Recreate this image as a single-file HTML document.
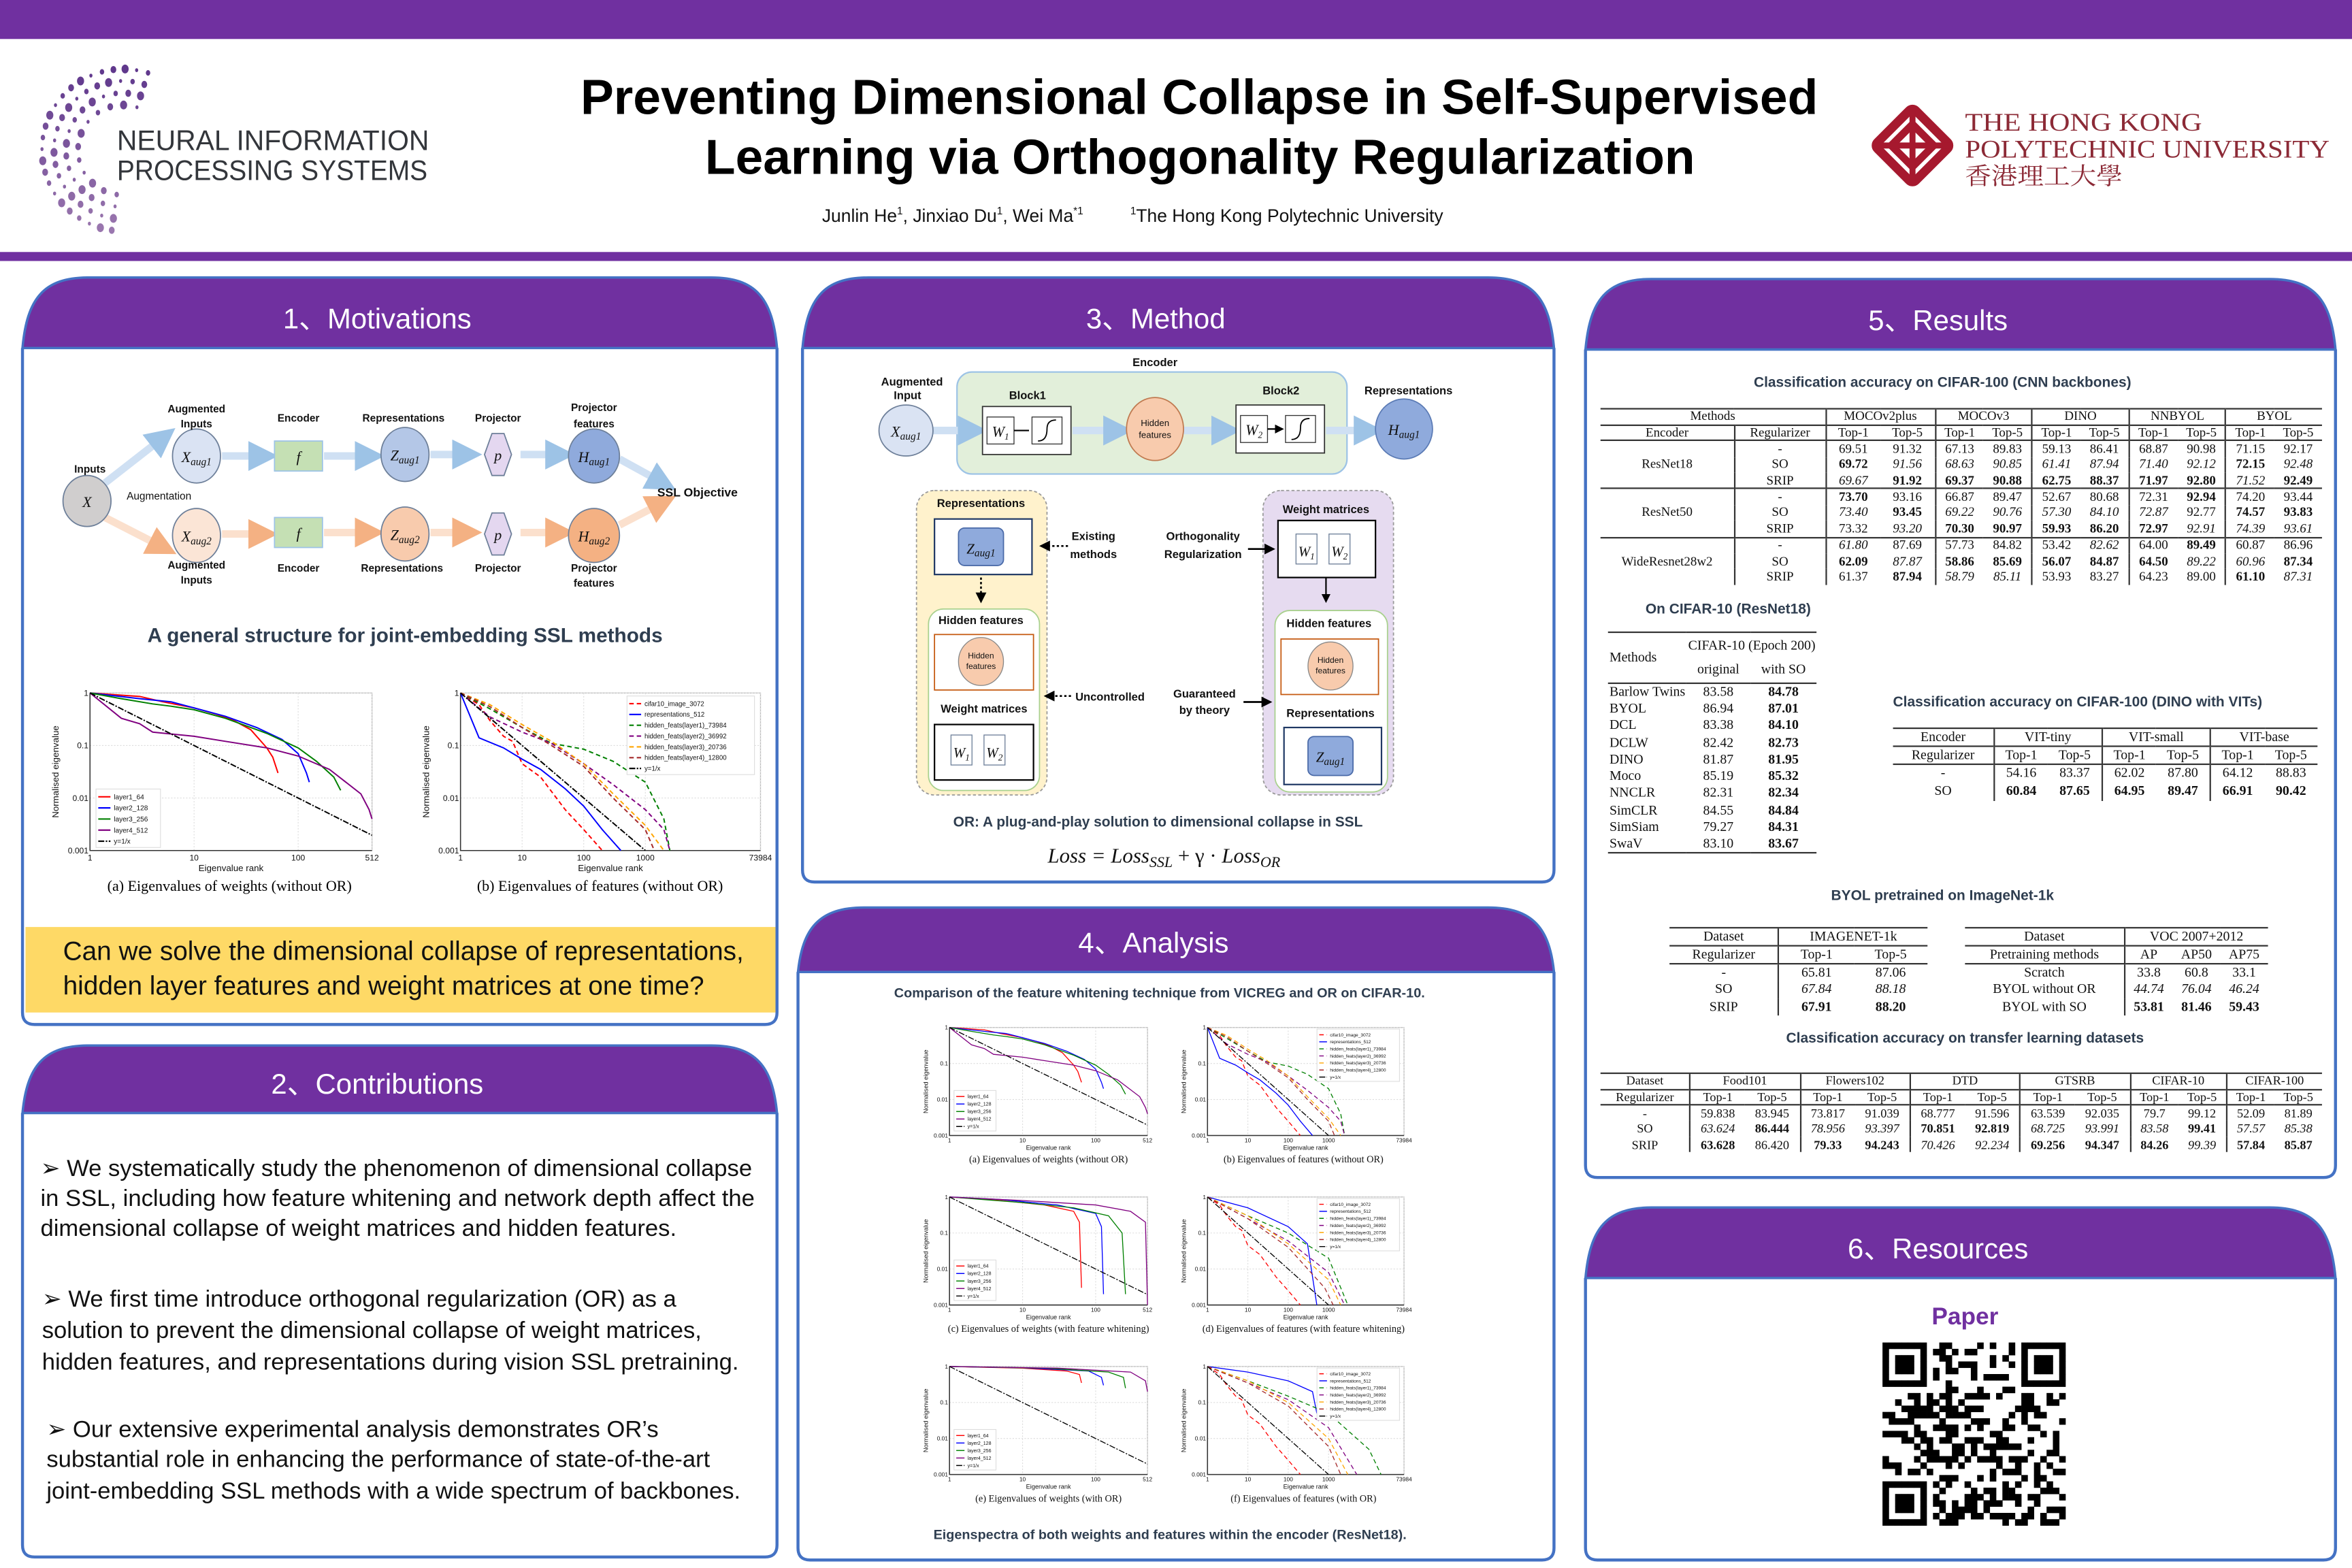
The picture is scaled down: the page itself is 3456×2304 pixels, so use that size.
<!DOCTYPE html>
<html><head><meta charset="utf-8">
<style>
html,body{margin:0;padding:0;background:#fff;}
#wrap{position:absolute;left:0;top:0;width:1568px;height:1045px;transform:scale(2.20408);transform-origin:0 0;overflow:hidden;background:#fff;font-family:"Liberation Sans","Noto Sans CJK SC",sans-serif;}
#poster{position:absolute;left:0;top:0;}
.tb{position:absolute;border-collapse:collapse;font-family:"Liberation Serif",serif;font-size:8.6px;line-height:9px;color:#111;}
.tb td{padding:0 1px;text-align:center;white-space:nowrap;}
.tb tr.T td{border-top:1.3px solid #333;}
.tb tr.t td{border-top:0.8px solid #333;}
.tb tr.B td{border-bottom:1.3px solid #333;}
.tb td.vl{border-left:0.8px solid #333;}
.tb td.lft{text-align:left;}
</style></head>
<body>
<div id="wrap">
<svg id="poster" width="1568" height="1045" viewBox="0 0 1568 1045" xmlns="http://www.w3.org/2000/svg">
<defs>
<marker id="ahb" markerWidth="4" markerHeight="4" refX="2.5" refY="2" orient="auto"><path d="M0,0 L4,2 L0,4 z" fill="#9dc3e6"/></marker>
<marker id="aho" markerWidth="4" markerHeight="4" refX="2.5" refY="2" orient="auto"><path d="M0,0 L4,2 L0,4 z" fill="#f4b183"/></marker>
<marker id="ahk" markerWidth="6" markerHeight="6" refX="5" refY="3" orient="auto"><path d="M0,0 L6,3 L0,6 z" fill="#000"/></marker>
</defs>
<rect x="0" y="0" width="1568" height="26" fill="#7030a0"/>
<rect x="0" y="168" width="1568" height="6" fill="#7030a0"/>
<g id="neurips"></g>
<text x="78" y="100" font-size="19" fill="#33363b" textLength="208" lengthAdjust="spacingAndGlyphs">NEURAL INFORMATION</text>
<text x="78" y="120" font-size="19" fill="#33363b" textLength="207" lengthAdjust="spacingAndGlyphs">PROCESSING SYSTEMS</text>
<text x="387" y="76" font-size="33" font-weight="bold" fill="#000" textLength="825" lengthAdjust="spacingAndGlyphs">Preventing Dimensional Collapse in Self-Supervised</text>
<text x="470" y="116" font-size="33" font-weight="bold" fill="#000" textLength="660" lengthAdjust="spacingAndGlyphs">Learning via Orthogonality Regularization</text>
<text x="548" y="148" font-size="12" fill="#111">Junlin He<tspan font-size="7" dy="-5">1</tspan><tspan dy="5">, Jinxiao Du</tspan><tspan font-size="7" dy="-5">1</tspan><tspan dy="5">, Wei Ma</tspan><tspan font-size="7" dy="-5">*1</tspan><tspan dy="5" dx="28"> </tspan><tspan font-size="7" dy="-5">1</tspan><tspan dy="5">The Hong Kong Polytechnic University</tspan></text>
<g fill="none" stroke="#a6192e" stroke-width="6">
<rect x="1257" y="79" width="36" height="36" transform="rotate(45 1275 97)" rx="3"/>
<rect x="1265" y="87" width="20" height="20" transform="rotate(45 1275 97)" stroke-width="5"/>
<path d="M1250,97 L1300,97 M1275,72 L1275,122" stroke-width="4"/>
</g>
<text x="1310" y="87" font-family="Liberation Serif" font-size="17" fill="#8c2a36" textLength="158" lengthAdjust="spacingAndGlyphs">THE HONG KONG</text>
<text x="1310" y="105" font-family="Liberation Serif" font-size="17" fill="#8c2a36" textLength="243" lengthAdjust="spacingAndGlyphs">POLYTECHNIC UNIVERSITY</text>
<text x="1310" y="123" font-family="'Noto Serif CJK SC',serif" font-size="16" fill="#8c2a36" textLength="105" lengthAdjust="spacingAndGlyphs">香港理工大學</text>

<g id="panels"></g>

<g font-size="7" font-weight="bold" fill="#111" text-anchor="middle">
<g stroke-width="5" fill="none">
<line x1="70" y1="322" x2="111" y2="290" stroke="#cfe0f3" marker-end="url(#ahb)"/>
<line x1="148" y1="304" x2="178" y2="304" stroke="#cfe0f3" marker-end="url(#ahb)"/>
<line x1="216" y1="304" x2="249" y2="304" stroke="#cfe0f3" marker-end="url(#ahb)"/>
<line x1="287" y1="303" x2="314" y2="303" stroke="#cfe0f3" marker-end="url(#ahb)"/>
<line x1="347" y1="303" x2="376" y2="303" stroke="#cfe0f3" marker-end="url(#ahb)"/>
<line x1="413" y1="306" x2="444" y2="323" stroke="#cfe0f3" marker-end="url(#ahb)"/>
<line x1="70" y1="345" x2="111" y2="366" stroke="#fbe0cd" marker-end="url(#aho)"/>
<line x1="148" y1="356" x2="178" y2="356" stroke="#fbe0cd" marker-end="url(#aho)"/>
<line x1="216" y1="355" x2="249" y2="355" stroke="#fbe0cd" marker-end="url(#aho)"/>
<line x1="287" y1="355" x2="314" y2="355" stroke="#fbe0cd" marker-end="url(#aho)"/>
<line x1="347" y1="355" x2="376" y2="355" stroke="#fbe0cd" marker-end="url(#aho)"/>
<line x1="413" y1="350" x2="444" y2="334" stroke="#fbe0cd" marker-end="url(#aho)"/>
</g>
<g stroke="#6d7f99" stroke-width="0.8">
<ellipse cx="58" cy="334" rx="16" ry="17" fill="#d0cece"/>
<ellipse cx="131" cy="304" rx="16" ry="18" fill="#dae3f3"/>
<ellipse cx="131" cy="357" rx="16" ry="18" fill="#fbe5d6"/>
<rect x="183" y="294" width="32" height="20" fill="#c5e0b4" stroke="#9dc3e6"/>
<rect x="183" y="345" width="32" height="20" fill="#c5e0b4" stroke="#9dc3e6"/>
<ellipse cx="270" cy="303" rx="16" ry="18" fill="#b4c7e7"/>
<ellipse cx="270" cy="356" rx="16" ry="18" fill="#f8cbad"/>
<polygon points="323,303 328,289 336,289 341,303 336,317 328,317" fill="#e4d7f0"/>
<polygon points="323,356 328,342 336,342 341,356 336,370 328,370" fill="#e4d7f0"/>
<ellipse cx="396" cy="304" rx="17" ry="18" fill="#8faadc"/>
<ellipse cx="396" cy="357" rx="17" ry="18" fill="#f4b183"/>
</g>
<g font-family="Liberation Serif" font-style="italic" font-weight="normal" font-size="10">
<text x="58" y="338">X</text><text x="131" y="308">X<tspan font-size="7" dy="2">aug1</tspan></text>
<text x="131" y="361">X<tspan font-size="7" dy="2">aug2</tspan></text>
<text x="199" y="308">f</text><text x="199" y="359">f</text>
<text x="270" y="307">Z<tspan font-size="7" dy="2">aug1</tspan></text><text x="270" y="360">Z<tspan font-size="7" dy="2">aug2</tspan></text>
<text x="332" y="307">p</text><text x="332" y="360">p</text>
<text x="396" y="308">H<tspan font-size="7" dy="2">aug1</tspan></text><text x="396" y="361">H<tspan font-size="7" dy="2">aug2</tspan></text>
</g>
<text x="60" y="315">Inputs</text>
<text x="106" y="333" font-weight="normal">Augmentation</text>
<text x="131" y="275">Augmented</text><text x="131" y="285">Inputs</text>
<text x="131" y="379">Augmented</text><text x="131" y="389">Inputs</text>
<text x="199" y="281">Encoder</text><text x="199" y="381">Encoder</text>
<text x="269" y="281">Representations</text><text x="268" y="381">Representations</text>
<text x="332" y="281">Projector</text><text x="332" y="381">Projector</text>
<text x="396" y="274">Projector</text><text x="396" y="285">features</text>
<text x="396" y="381">Projector</text><text x="396" y="391">features</text>
<text x="465" y="331" font-size="8">SSL Objective</text>
</g>
<text x="270" y="428" font-size="13.5" font-weight="bold" fill="#2f3e50" text-anchor="middle">A general structure for joint-embedding SSL methods</text>
<g id="motCharts"></g>
<text x="153" y="594" font-family="Liberation Serif" font-size="10" text-anchor="middle">(a) Eigenvalues of weights (without OR)</text>
<text x="400" y="594" font-family="Liberation Serif" font-size="10" text-anchor="middle">(b) Eigenvalues of features (without OR)</text>
<rect x="17" y="618" width="500" height="57" fill="#fed966"/>
<text x="42" y="640" font-size="17.6" fill="#111">Can we solve the dimensional collapse of representations,</text>
<text x="42" y="663" font-size="17.6" fill="#111">hidden layer features and weight matrices at one time?</text>

<g font-size="15.7" fill="#111">
<text x="27" y="784"><tspan font-family="DejaVu Sans">➢</tspan>  We systematically study the phenomenon of  dimensional collapse</text>
<text x="27" y="804">in SSL, including how feature whitening and network depth affect the</text>
<text x="27" y="824">dimensional  collapse of weight matrices and hidden features.</text>
<text x="28" y="871"><tspan font-family="DejaVu Sans">➢</tspan> We first time introduce orthogonal regularization (OR) as a</text>
<text x="28" y="892">solution to prevent the dimensional collapse of weight matrices,</text>
<text x="28" y="913">hidden features, and representations during vision  SSL pretraining.</text>
<text x="31" y="958"><tspan font-family="DejaVu Sans">➢</tspan>  Our extensive experimental analysis demonstrates OR’s</text>
<text x="31" y="978">substantial role in enhancing the performance of state-of-the-art</text>
<text x="31" y="999">joint-embedding SSL methods with a wide spectrum of backbones.</text>
</g>

<g font-size="7.5" font-weight="bold" fill="#111" text-anchor="middle">
<rect x="638" y="248" width="260" height="68" rx="10" fill="#e2efda" stroke="#9dc3e6" stroke-width="1"/>
<g stroke-width="5" fill="none">
<line x1="622" y1="287" x2="651" y2="287" stroke="#cfe0f3" marker-end="url(#ahb)"/>
<line x1="715" y1="287" x2="748" y2="287" stroke="#cfe0f3" marker-end="url(#ahb)"/>
<line x1="789" y1="287" x2="820" y2="287" stroke="#cfe0f3" marker-end="url(#ahb)"/>
<line x1="884" y1="287" x2="915" y2="287" stroke="#cfe0f3" marker-end="url(#ahb)"/>
</g>
<ellipse cx="604" cy="287" rx="18" ry="17" fill="#dae3f3" stroke="#6d7f99" stroke-width="0.8"/>
<rect x="655" y="271" width="59" height="32" fill="#fff" stroke="#333" stroke-width="0.8"/>
<rect x="824" y="270" width="59" height="32" fill="#fff" stroke="#333" stroke-width="0.8"/>
<ellipse cx="770" cy="286" rx="19" ry="21" fill="#f8cbad" stroke="#c07a50" stroke-width="0.8"/>
<ellipse cx="936" cy="286" rx="19" ry="20" fill="#8faadc" stroke="#5b7bb5" stroke-width="0.8"/>
<g fill="#fff" stroke="#333" stroke-width="0.6"><rect x="658" y="278" width="18" height="18"/><rect x="688" y="278" width="20" height="18"/><rect x="827" y="277" width="18" height="18"/><rect x="857" y="277" width="20" height="18"/></g>
<path d="M676,287 L686,287 M845,286 L855,286" stroke="#000" stroke-width="1" marker-end="url(#ahk)"/>
<path d="M692,294 Q698,294 698,286 Q698,280 704,280 M861,293 Q867,293 867,285 Q867,279 873,279" stroke="#000" fill="none" stroke-width="0.8"/>
<g font-family="Liberation Serif" font-style="italic" font-weight="normal" font-size="10">
<text x="604" y="291">X<tspan font-size="7" dy="2">aug1</tspan></text>
<text x="667" y="291">W<tspan font-size="6" dy="2">1</tspan></text><text x="836" y="290">W<tspan font-size="6" dy="2">2</tspan></text>
<text x="936" y="290">H<tspan font-size="7" dy="2">aug1</tspan></text>
</g>
<text x="770" y="284" font-weight="normal" font-size="6">Hidden</text><text x="770" y="292" font-weight="normal" font-size="6">features</text>
<text x="770" y="244">Encoder</text><text x="608" y="257">Augmented</text><text x="605" y="266">Input</text>
<text x="685" y="266">Block1</text><text x="854" y="263">Block2</text><text x="939" y="263">Representations</text>
<rect x="611" y="327" width="87" height="203" rx="12" fill="#fff2cc" stroke="#999" stroke-dasharray="2,1.5" stroke-width="0.8"/>
<rect x="842" y="327" width="87" height="203" rx="12" fill="#e6dbf0" stroke="#999" stroke-dasharray="2,1.5" stroke-width="0.8"/>
<text x="654" y="338">Representations</text>
<rect x="623" y="346" width="65" height="37" fill="#fff" stroke="#1f3864" stroke-width="1"/>
<rect x="639" y="352" width="30" height="25" rx="4" fill="#8faadc" stroke="#4a6aa8" stroke-width="0.8"/>
<line x1="654" y1="385" x2="654" y2="401" stroke="#000" stroke-width="1.2" stroke-dasharray="1.5,1.5" marker-end="url(#ahk)"/>
<rect x="619" y="406" width="74" height="121" rx="10" fill="#fff" stroke="#a9d18e" stroke-width="0.8"/>
<text x="654" y="416">Hidden features</text>
<rect x="623" y="423" width="66" height="37" fill="#fff" stroke="#c55a11" stroke-width="0.8"/>
<ellipse cx="654" cy="441" rx="15" ry="16" fill="#f8cbad" stroke="#888" stroke-width="0.6"/>
<text x="654" y="439" font-weight="normal" font-size="5.5">Hidden</text><text x="654" y="446" font-weight="normal" font-size="5.5">features</text>
<text x="656" y="475">Weight matrices</text>
<rect x="623" y="483" width="66" height="37" fill="#fff" stroke="#000" stroke-width="1"/>
<text x="884" y="342">Weight matrices</text>
<rect x="852" y="347" width="65" height="38" fill="#fff" stroke="#000" stroke-width="1"/>
<line x1="884" y1="385" x2="884" y2="401" stroke="#000" stroke-width="1" marker-end="url(#ahk)"/>
<rect x="850" y="407" width="75" height="121" rx="10" fill="#fff" stroke="#a9d18e" stroke-width="0.8"/>
<text x="886" y="418">Hidden features</text>
<rect x="854" y="426" width="65" height="37" fill="#fff" stroke="#c55a11" stroke-width="0.8"/>
<ellipse cx="887" cy="444" rx="15" ry="16" fill="#f8cbad" stroke="#888" stroke-width="0.6"/>
<text x="887" y="442" font-weight="normal" font-size="5.5">Hidden</text><text x="887" y="449" font-weight="normal" font-size="5.5">features</text>
<text x="887" y="478">Representations</text>
<rect x="856" y="485" width="65" height="38" fill="#fff" stroke="#1f3864" stroke-width="1"/>
<rect x="872" y="491" width="30" height="26" rx="4" fill="#8faadc" stroke="#4a6aa8" stroke-width="0.8"/>
<g fill="#fff" stroke="#6d7f99" stroke-width="0.6"><rect x="634" y="490" width="14" height="20"/><rect x="656" y="490" width="14" height="20"/><rect x="864" y="356" width="14" height="20"/><rect x="886" y="356" width="14" height="20"/></g>
<g font-family="Liberation Serif" font-style="italic" font-weight="normal" font-size="9.5">
<text x="654" y="369">Z<tspan font-size="7" dy="2">aug1</tspan></text>
<text x="887" y="508">Z<tspan font-size="7" dy="2">aug1</tspan></text>
<text x="641" y="505">W<tspan font-size="6" dy="2">1</tspan></text><text x="663" y="505">W<tspan font-size="6" dy="2">2</tspan></text>
<text x="871" y="371">W<tspan font-size="6" dy="2">1</tspan></text><text x="893" y="371">W<tspan font-size="6" dy="2">2</tspan></text>
</g>
<text x="729" y="360">Existing</text><text x="729" y="372">methods</text>
<line x1="712" y1="364" x2="694" y2="364" stroke="#000" stroke-width="1.2" stroke-dasharray="1.5,1.5" marker-end="url(#ahk)"/>
<text x="802" y="360">Orthogonality</text><text x="802" y="372">Regularization</text>
<line x1="832" y1="366" x2="849" y2="366" stroke="#000" stroke-width="1.2" marker-end="url(#ahk)"/>
<text x="740" y="467">Uncontrolled</text>
<line x1="714" y1="464" x2="697" y2="464" stroke="#000" stroke-width="1.2" stroke-dasharray="1.5,1.5" marker-end="url(#ahk)"/>
<text x="803" y="465">Guaranteed</text><text x="803" y="476">by theory</text>
<line x1="829" y1="468" x2="847" y2="468" stroke="#000" stroke-width="1.2" marker-end="url(#ahk)"/>
</g>
<text x="772" y="551" font-size="9.5" font-weight="bold" fill="#2f3e50" text-anchor="middle">OR: A plug-and-play solution to dimensional collapse in SSL</text>
<text x="776" y="575" font-family="Liberation Serif" font-style="italic" font-size="14" text-anchor="middle" fill="#111">Loss = Loss<tspan font-size="10" dy="3">SSL</tspan><tspan dy="-3" font-style="normal"> + γ · </tspan>Loss<tspan font-size="10" dy="3">OR</tspan></text>

<text x="773" y="665" font-size="9" font-weight="bold" fill="#2f3e50" text-anchor="middle">Comparison of the feature whitening technique from VICREG and OR on CIFAR-10.</text>
<g id="anaCharts"></g>
<g font-family="Liberation Serif" font-size="6.5" text-anchor="middle" fill="#111">
<text x="699" y="775">(a) Eigenvalues of weights (without OR)</text>
<text x="869" y="775">(b) Eigenvalues of features (without OR)</text>
<text x="699" y="888">(c) Eigenvalues of weights (with feature whitening)</text>
<text x="869" y="888">(d) Eigenvalues of features (with feature whitening)</text>
<text x="699" y="1001">(e) Eigenvalues of weights (with OR)</text>
<text x="869" y="1001">(f) Eigenvalues of features (with OR)</text>
</g>
<text x="780" y="1026" font-size="9" font-weight="bold" fill="#2f3e50" text-anchor="middle">Eigenspectra of both weights and features within the encoder (ResNet18).</text>

<g font-size="9.5" font-weight="bold" fill="#2f3e50">
<text x="1295" y="258" text-anchor="middle">Classification accuracy on CIFAR-100 (CNN backbones)</text>
<text x="1097" y="409">On CIFAR-10 (ResNet18)</text>
<text x="1262" y="471">Classification accuracy on CIFAR-100 (DINO with VITs)</text>
<text x="1295" y="600" text-anchor="middle">BYOL pretrained on ImageNet-1k</text>
<text x="1310" y="695" text-anchor="middle">Classification accuracy on transfer learning datasets</text>
</g>

<text x="1310" y="883" font-size="16" font-weight="bold" fill="#7030a0" text-anchor="middle">Paper</text>
<g id="qr"></g>
</svg>
<div id="tables"></div>
</div>

<script>
const NS='http://www.w3.org/2000/svg';
function mk(tag,parent,attrs){const e=document.createElementNS(NS,tag);for(const k in attrs)e.setAttribute(k,attrs[k]);parent.appendChild(e);return e;}

const yTickVals=[1,0.1,0.01,0.001];
const yTickLabels=['1','0.1','0.01','0.001'];
const weightTicks=[1,10,100,512];
const weightTickLabels=['1','10','100','512'];
const featTicks=[1,10,100,1000,73984];
const featTickLabels=['1','10','100','1000','73984'];
const weightLegend=['layer1_64','layer2_128','layer3_256','layer4_512','y=1/x'];
const featLegend=['cifar10_image_3072','representations_512','hidden_feats(layer1)_73984','hidden_feats(layer2)_36992','hidden_feats(layer3)_20736','hidden_feats(layer4)_12800','y=1/x'];

const wNoOR_l1=[[1,1],[3,0.86],[5,0.68],[10,0.52],[16,0.4],[24,0.3],[35,0.2],[50,0.09],[57,0.06],[64,0.03]];
const wNoOR_l2=[[1,1],[3,0.78],[6,0.68],[10,0.52],[20,0.36],[40,0.22],[70,0.13],[100,0.07],[120,0.03],[128,0.02]];
const wNoOR_l3=[[1,1],[2,0.78],[4,0.62],[6,0.56],[10,0.48],[20,0.33],[50,0.17],[100,0.09],[150,0.05],[220,0.025],[256,0.014]];
const wNoOR_l4=[[1,1],[2,0.33],[3,0.26],[4,0.18],[10,0.15],[20,0.12],[50,0.09],[100,0.063],[200,0.035],[400,0.012],[480,0.006],[512,0.004]];
const wNoOR_ref=[[1,1],[512,0.00195]];
const fNoOR_img=[[1,1],[2,0.6],[3,0.3],[5,0.15],[7,0.12],[10,0.045],[20,0.025],[50,0.006],[100,0.0025],[200,0.001]];
const fNoOR_rep=[[1,1],[2,0.14],[5,0.09],[10,0.055],[20,0.035],[50,0.015],[100,0.007],[200,0.0025],[400,0.001]];
const fNoOR_l1=[[1,1],[3,0.5],[10,0.22],[30,0.11],[100,0.085],[300,0.05],[1000,0.02],[2000,0.004],[2500,0.001]];
const fNoOR_l2=[[1,1],[3,0.35],[10,0.18],[30,0.11],[100,0.045],[300,0.018],[1000,0.006],[2000,0.0025],[2500,0.001]];
const fNoOR_l3=[[1,1],[3,0.6],[10,0.25],[30,0.12],[100,0.045],[300,0.012],[1000,0.003],[2000,0.001]];
const fNoOR_l4=[[1,1],[3,0.55],[10,0.22],[30,0.1],[100,0.04],[300,0.01],[1000,0.0025],[1400,0.001]];
const fNoOR_ref=[[1,1],[1000,0.001]];
const wWh_l1=[[1,1],[5,0.8],[20,0.6],[50,0.4],[60,0.2],[64,0.003]];
const wWh_l2=[[1,1],[5,0.85],[30,0.6],[100,0.35],[120,0.15],[128,0.002]];
const wWh_l3=[[1,1],[10,0.7],[50,0.5],[150,0.3],[230,0.1],[256,0.002]];
const wWh_l4=[[1,1],[10,0.8],[100,0.6],[300,0.4],[480,0.2],[512,0.001]];
const fWh_rep=[[1,1],[10,0.5],[100,0.15],[300,0.05],[512,0.001]];
const fWh_l1=[[1,1],[10,0.3],[100,0.1],[1000,0.02],[3000,0.001]];
const fWh_l2=[[1,1],[10,0.25],[100,0.06],[1000,0.008],[2500,0.001]];
const fWh_l3=[[1,1],[10,0.3],[100,0.05],[1000,0.005],[2000,0.001]];
const fWh_l4=[[1,1],[10,0.25],[100,0.04],[800,0.003],[1300,0.001]];
const wOR_l1=[[1,1],[10,0.9],[40,0.75],[60,0.6],[64,0.35]];
const wOR_l2=[[1,1],[10,0.92],[80,0.75],[120,0.5],[128,0.3]];
const wOR_l3=[[1,1],[20,0.9],[150,0.7],[240,0.5],[256,0.25]];
const wOR_l4=[[1,1],[30,0.9],[300,0.7],[480,0.4],[512,0.2]];
const fOR_rep=[[1,1],[10,0.7],[100,0.4],[400,0.2],[512,0.05]];
const fOR_l1=[[1,1],[10,0.4],[100,0.15],[1000,0.05],[10000,0.005],[20000,0.001]];
const fOR_l2=[[1,1],[10,0.35],[100,0.12],[1000,0.02],[5000,0.001]];
const fOR_l3=[[1,1],[10,0.4],[100,0.1],[1000,0.01],[3000,0.001]];
const fOR_l4=[[1,1],[10,0.35],[100,0.08],[1000,0.006],[2000,0.001]];

const wColors=['#ff0000','#0000ff','#008000','#800080','#000'];
const wDash=['','','','','4,1,1,1'];
const fColors=['#ff0000','#0000ff','#008000','#800080','#ffa500','#a52a2a','#000'];
const fDash=['3,2','','3,2','3,2','3,2','3,2','4,1,1,1'];

function drawChart(parent,c){
  const g=mk('g',parent,{});
  
  
  const lx=Math.log10(c.xmax);
  const X=r=>c.x+c.w*Math.log10(r)/lx;
  const Y=v=>c.y+c.h*(-Math.log10(v))/3;
  const fs=c.fs;
  const fr=mk('rect',g,{x:c.x,y:c.y,width:c.w,height:c.h,fill:'#fff',stroke:'#bbb','stroke-width':0.6});
  
  
  yTickVals.forEach((v,i)=>{
    const gl=mk('line',g,{x1:c.x,x2:c.x+c.w,y1:Y(v),y2:Y(v),stroke:'#ddd','stroke-width':0.5,'stroke-dasharray':'1,1'});
    
    
    const t=mk('text',g,{x:c.x-1,y:Y(v)+fs*0.35,'font-size':fs,'text-anchor':'end',fill:'#111'});
    t.textContent=yTickLabels[i];
    
    
  });
  c.xt.forEach((r,i)=>{
    const gl=mk('line',g,{x1:X(r),x2:X(r),y1:c.y,y2:c.y+c.h,stroke:'#ddd','stroke-width':0.5,'stroke-dasharray':'1,1'});
    
    
    const t=mk('text',g,{x:X(r),y:c.y+c.h+fs*1.2,'font-size':fs,'text-anchor':'middle',fill:'#111'});
    t.textContent=c.xl[i];
    
    
  });
  const ax=mk('path',g,{d:`M${c.x},${c.y} L${c.x},${c.y+c.h} L${c.x+c.w},${c.y+c.h}`,fill:'none',stroke:'#333','stroke-width':0.7});
  
  
  const xt=mk('text',g,{x:c.x+c.w*0.5,y:c.y+c.h+fs*2.5,'font-size':fs*1.1,'text-anchor':'middle',fill:'#111'});
  xt.textContent='Eigenvalue rank';
  
  
  const yx=c.x-fs*3.8, yy=c.y+c.h/2;
  const yt=mk('text',g,{x:yx,y:yy,'font-size':fs*1.1,'text-anchor':'middle',fill:'#111',transform:`rotate(-90 ${yx} ${yy})`});
  yt.textContent='Normalised eigenvalue';
  
  
  c.series.forEach((s,i)=>{
    const p=mk('polyline',g,{points:s.map(d=>X(d[0]).toFixed(2)+','+Y(d[1]).toFixed(2)).join(' '),fill:'none',stroke:c.colors[i],'stroke-width':c.sw,'stroke-dasharray':c.dash[i]});
    
    
  });
  if(c.legend){
    const L=c.legend;
    const lb=mk('rect',g,{x:L.x,y:L.y,width:L.w,height:L.step*L.labels.length+2,fill:'#fff',stroke:'#ddd','stroke-width':0.5});
    
    
    L.labels.forEach((lab,i)=>{
      const yy2=L.y+L.step*(i+0.5)+1.5;
      const ln=mk('line',g,{x1:L.x+1.5,x2:L.x+1.5+L.step*1.1,y1:yy2,y2:yy2,stroke:c.colors[i],'stroke-width':c.sw*1.1,'stroke-dasharray':c.dash[i]});
      
      
      const t=mk('text',g,{x:L.x+3+L.step*1.2,y:yy2+L.fs*0.35,'font-size':L.fs,fill:'#111'});
      t.textContent=lab;
      
      
    });
  }
}

const mot=document.getElementById('motCharts');
drawChart(mot,{name:'chart-weights-without-or',x:60,y:462,w:188,h:105,xmax:512,xt:weightTicks,xl:weightTickLabels,fs:5.5,sw:0.9,
  series:[wNoOR_l1,wNoOR_l2,wNoOR_l3,wNoOR_l4,wNoOR_ref],colors:wColors,dash:wDash,
  legend:{x:64,y:526,w:43,step:7.4,fs:4.6,labels:weightLegend}});
drawChart(mot,{name:'chart-features-without-or',x:307,y:462,w:200,h:105,xmax:73984,xt:featTicks,xl:featTickLabels,fs:5.5,sw:0.9,
  series:[fNoOR_img,fNoOR_rep,fNoOR_l1,fNoOR_l2,fNoOR_l3,fNoOR_l4,fNoOR_ref],colors:fColors,dash:fDash,
  legend:{x:418,y:464,w:85,step:7.2,fs:4.4,labels:featLegend}});

const ana=document.getElementById('anaCharts');
const rowsY=[685,798,911];
const wSets=[[wNoOR_l1,wNoOR_l2,wNoOR_l3,wNoOR_l4,wNoOR_ref],[wWh_l1,wWh_l2,wWh_l3,wWh_l4,wNoOR_ref],[wOR_l1,wOR_l2,wOR_l3,wOR_l4,wNoOR_ref]];
const fSets=[[fNoOR_img,fNoOR_rep,fNoOR_l1,fNoOR_l2,fNoOR_l3,fNoOR_l4,fNoOR_ref],[fNoOR_img,fWh_rep,fWh_l1,fWh_l2,fWh_l3,fWh_l4,fNoOR_ref],[fNoOR_img,fOR_rep,fOR_l1,fOR_l2,fOR_l3,fOR_l4,fNoOR_ref]];
rowsY.forEach((yy,k)=>{
  drawChart(ana,{name:'analysis-weights-chart',x:633,y:yy,w:132,h:72,xmax:512,xt:weightTicks,xl:weightTickLabels,fs:3.8,sw:0.6,
    series:wSets[k],colors:wColors,dash:wDash,legend:{x:636,y:yy+42,w:28,step:5,fs:3.2,labels:weightLegend}});
  drawChart(ana,{name:'analysis-features-chart',x:805,y:yy,w:131,h:72,xmax:73984,xt:featTicks,xl:featTickLabels,fs:3.8,sw:0.6,
    series:fSets[k],colors:fColors,dash:fDash,legend:{x:878,y:yy+1,w:55,step:4.7,fs:3,labels:featLegend}});
});

const panelDefs=[
 {x:15,x2:518,t:185,b:232,e:683,title:'1、Motivations'},
 {x:15,x2:518,t:697,b:742,e:1038,title:'2、Contributions'},
 {x:535,x2:1036,t:185,b:232,e:588,title:'3、Method'},
 {x:532,x2:1036,t:605,b:648,e:1040,title:'4、Analysis'},
 {x:1057,x2:1557,t:186,b:233,e:785,title:'5、Results'},
 {x:1057,x2:1557,t:805,b:852,e:1040,title:'6、Resources'}];
const pg=document.getElementById('panels');
panelDefs.forEach(p=>{
  const body=mk('path',pg,{d:`M${p.x},${p.b} L${p.x},${p.e-8} Q${p.x},${p.e} ${p.x+8},${p.e} L${p.x2-8},${p.e} Q${p.x2},${p.e} ${p.x2},${p.e-8} L${p.x2},${p.b}`,fill:'#fff',stroke:'#4472c4','stroke-width':2});
  
  
  const tab=mk('path',pg,{d:`M${p.x},${p.b} C${p.x+3},${p.t+14} ${p.x+14},${p.t} ${p.x+44},${p.t} L${p.x2-44},${p.t} C${p.x2-14},${p.t} ${p.x2-3},${p.t+14} ${p.x2},${p.b} Z`,fill:'#7030a0',stroke:'#4472c4','stroke-width':1.6});
  
  
  const t=mk('text',pg,{x:(p.x+p.x2)/2-15,y:p.b-13,'font-size':19,fill:'#fff','text-anchor':'middle'});
  t.textContent=p.title;
  
  
});

/* NeurIPS dots: C-shaped arc left of the text */
const ng=document.getElementById('neurips');
const ringR=[30,38,46,54];
for(let ri=0;ri<ringR.length;ri++){
  const n=12+ri*4;
  for(let i=0;i<n;i++){
    const th=(72+i*(190/(n-1)))*Math.PI/180;
    const cx=82+ringR[ri]*Math.cos(th), cy=100-ringR[ri]*Math.sin(th);
    const sz=1.3+((i*7+ri*3)%4)*0.55;
    const tfrac=Math.min(1,Math.max(0,(cy-45)/110));
    const col=`rgb(${Math.round(95+60*tfrac)},${Math.round(55+65*tfrac)},${Math.round(140+35*tfrac)})`;
    const d=mk('ellipse',ng,{cx:cx.toFixed(1),cy:cy.toFixed(1),rx:sz*0.8,ry:sz,fill:col});
    
    
  }
}

const qg=document.getElementById('qr');
const N=29, qx=1255, qy=895, ms=122/29;
function finder(cx,cy){return (x,y)=>{const dx=x-cx,dy=y-cy;if(dx<0||dy<0||dx>6||dy>6)return null;const m=Math.max(Math.abs(dx-3),Math.abs(dy-3));return m!==2;};}
const fds=[finder(0,0),finder(22,0),finder(0,22)];
for(let y=0;y<N;y++)for(let x=0;x<N;x++){
  let on=null;
  for(const f of fds){const r=f(x,y);if(r!==null)on=r;}
  if(on===null){ if((x<8&&y<8)||(x>20&&y<8)||(x<8&&y>20)) on=false; else on=(((x*73+y*151+x*y*37)^(x*y+11))%7)<3; }
  if(on){
    const r=mk('rect',qg,{x:(qx+x*ms).toFixed(2),y:(qy+y*ms).toFixed(2),width:ms+0.15,height:ms+0.15,fill:'#000'});
    
    
  }
}

const tablesDiv=document.getElementById('tables');
function buildTable(name,left,top,width,rowH,rows,fs){
  const t=document.createElement('table');
  t.className='tb';
  t.style.left=left+'px';t.style.top=top+'px';t.style.width=width+'px';
  if(fs)t.style.fontSize=fs+'px';
  
  
  rows.forEach(r=>{
    const tr=document.createElement('tr');
    const parts=r[0].split('|');
    tr.className=parts[0];
    tr.style.height=(parts[1]?parts[1]:rowH)+'px';
    
    
    r.slice(1).forEach(s=>{
      const td=document.createElement('td');
      let cls='';
      if(s[0]==='!'){cls+=' vl';s=s.slice(1);}
      if(s[0]==='<'){cls+=' lft';s=s.slice(1);}
      let b=false,i=false;
      if(s[0]==='*'&&s.length>1){b=true;s=s.slice(1);} else if(s[0]==='_'&&s.length>1){i=true;s=s.slice(1);}
      let m=s.match(/\^(\d+)$/); if(m){td.rowSpan=+m[1];s=s.slice(0,m.index);}
      m=s.match(/:(\d+)$/); if(m){td.colSpan=+m[1];s=s.slice(0,m.index);}
      td.className=cls.trim();
      if(b){const e=document.createElement('b');e.textContent=s;td.appendChild(e);}
      else if(i){const e=document.createElement('i');e.textContent=s;td.appendChild(e);}
      else td.textContent=s;
      
      
      tr.appendChild(td);
    });
    t.appendChild(tr);
  });
  tablesDiv.appendChild(t);
}
const top5=['!Top-1','Top-5'];
buildTable('cnn-backbones-table',1067,272,481,10.7,[
 ['T','Methods:2','!MOCOv2plus:2','!MOCOv3:2','!DINO:2','!NNBYOL:2','!BYOL:2'],
 ['t','Encoder','!Regularizer',...top5,...top5,...top5,...top5,...top5],
 ['t','ResNet18^3','!-','!69.51','91.32','!67.13','89.83','!59.13','86.41','!68.87','90.98','!71.15','92.17'],
 ['','!SO','!*69.72','_91.56','!_68.63','_90.85','!_61.41','_87.94','!_71.40','_92.12','!*72.15','_92.48'],
 ['','!SRIP','!_69.67','*91.92','!*69.37','*90.88','!*62.75','*88.37','!*71.97','*92.80','!_71.52','*92.49'],
 ['T','ResNet50^3','!-','!*73.70','93.16','!66.87','89.47','!52.67','80.68','!72.31','*92.94','!74.20','93.44'],
 ['','!SO','!_73.40','*93.45','!_69.22','_90.76','!_57.30','_84.10','!_72.87','92.77','!*74.57','*93.83'],
 ['','!SRIP','!73.32','_93.20','!*70.30','*90.97','!*59.93','*86.20','!*72.97','_92.91','!_74.39','_93.61'],
 ['T','WideResnet28w2^3','!-','!_61.80','87.69','!57.73','84.82','!53.42','_82.62','!64.00','*89.49','!60.87','86.96'],
 ['','!SO','!*62.09','_87.87','!*58.86','*85.69','!*56.07','*84.87','!*64.50','_89.22','!_60.96','*87.34'],
 ['','!SRIP','!61.37','*87.94','!_58.79','_85.11','!53.93','83.27','!64.23','89.00','!*61.10','_87.31']
],8.6);
buildTable('cifar10-table',1072,421,108,11.3,[
 ['T|17','<Methods^2','CIFAR-10 (Epoch 200):2'],
 ['|17','original','with SO'],
 ['t','<Barlow Twins','83.58','*84.78'],
 ['','<BYOL','86.94','*87.01'],
 ['','<DCL','83.38','*84.10'],
 ['','<DCLW','82.42','*82.73'],
 ['','<DINO','81.87','*81.95'],
 ['','<Moco','85.19','*85.32'],
 ['','<NNCLR','82.31','*82.34'],
 ['','<SimCLR','84.55','*84.84'],
 ['','<SimSiam','79.27','*84.31'],
 ['B','<SwaV','83.10','*83.67']
],9);
buildTable('vit-table',1262,485,283,12,[
 ['T','Encoder','!VIT-tiny:2','!VIT-small:2','!VIT-base:2'],
 ['t','Regularizer',...top5,...top5,...top5],
 ['t','-','!54.16','83.37','!62.02','87.80','!64.12','88.83'],
 ['','SO','!*60.84','*87.65','!*64.95','*89.47','!*66.91','*90.42']
],9);
buildTable('imagenet-table',1113,618,172,11.8,[
 ['T','Dataset','!IMAGENET-1k:2'],
 ['t','Regularizer',...top5],
 ['t','-','!65.81','87.06'],
 ['','SO','!_67.84','_88.18'],
 ['','SRIP','!*67.91','*88.20']
],9);
buildTable('voc-table',1310,618,202,11.8,[
 ['T','Dataset','!VOC 2007+2012:3'],
 ['t','Pretraining methods','!AP','AP50','AP75'],
 ['t','Scratch','!33.8','60.8','33.1'],
 ['','BYOL without OR','!_44.74','_76.04','_46.24'],
 ['','BYOL with SO','!*53.81','*81.46','*59.43']
],9);
buildTable('transfer-table',1067,715,481,10.6,[
 ['T','Dataset','!Food101:2','!Flowers102:2','!DTD:2','!GTSRB:2','!CIFAR-10:2','!CIFAR-100:2'],
 ['t','Regularizer',...top5,...top5,...top5,...top5,...top5,...top5],
 ['t','-','!59.838','83.945','!73.817','91.039','!68.777','91.596','!63.539','92.035','!79.7','99.12','!52.09','81.89'],
 ['','SO','!_63.624','*86.444','!_78.956','_93.397','!*70.851','*92.819','!_68.725','_93.991','!_83.58','*99.41','!_57.57','_85.38'],
 ['','SRIP','!*63.628','86.420','!*79.33','*94.243','!_70.426','_92.234','!*69.256','*94.347','!*84.26','_99.39','!*57.84','*85.87']
],8.3);
</script>
</body></html>
